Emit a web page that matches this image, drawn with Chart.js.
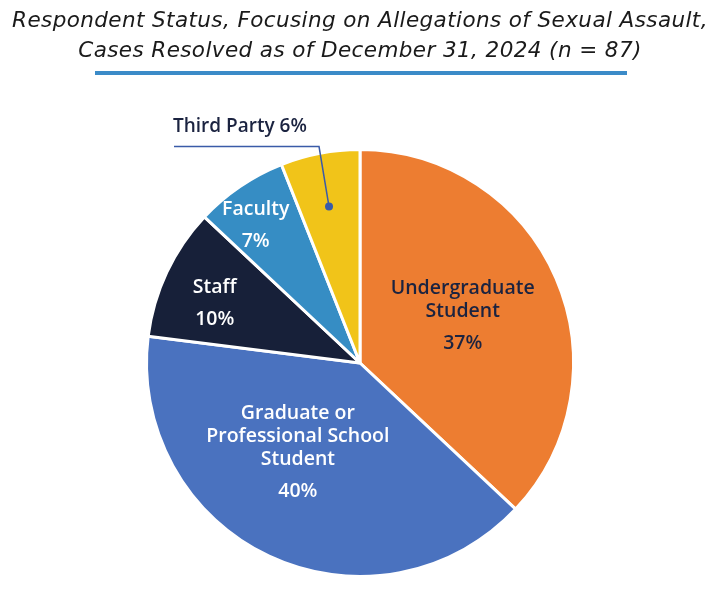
<!DOCTYPE html>
<html>
<head>
<meta charset="utf-8">
<script src="https://cdn.jsdelivr.net/npm/chart.js@4/dist/chart.umd.min.js"></script>
<style>
  html, body { margin: 0; padding: 0; background: #ffffff; }
  #wrap { width: 720px; height: 595px; position: relative; }
</style>
</head>
<body>
<div id="wrap"><canvas id="c" width="720" height="595"></canvas></div>
<script>
// ---- data ----
const titleLines = [
  'Respondent Status, Focusing on Allegations of Sexual Assault,',
  'Cases Resolved as of December 31, 2024 (n = 87)'
];
const categories = ['Undergraduate Student', 'Graduate or Professional School Student', 'Staff', 'Faculty', 'Third Party'];
const percents = [37, 40, 10, 7, 6];
const labelLines = [
  ['Undergraduate', 'Student'],
  ['Graduate or', 'Professional School', 'Student'],
  ['Staff'],
  ['Faculty'],
  ['Third Party']
];

// ---- styles ----
const sliceColors = ['#ED7D31', '#4A72BF', '#172039', '#368DC4', '#F1C419'];
const labelColors = ['#1B2340', '#FFFFFF', '#FFFFFF', '#FFFFFF', '#1B2340'];
const labelRadiusFrac = [0.53, 0.51, 0.735, 0.81, 0.747];
const labelAngleOffsetDeg = [-1.4, 9.6, -3, -2.9, -0.4];
const calloutSlice = [false, false, false, false, true];
const FONT = '"Open Sans", "DejaVu Sans", sans-serif';
const TITLE_FONT = '"DejaVu Sans", sans-serif';

const titlePlugin = {
  id: 'titleDraw',
  afterDraw(chart) {
    const ctx = chart.ctx;
    ctx.save();
    ctx.fillStyle = '#1a1a1a';
    ctx.font = 'italic 400 21.5px ' + TITLE_FONT;
    ctx.letterSpacing = '0.4px';
    ctx.textAlign = 'center';
    ctx.textBaseline = 'middle';
    ctx.fillText(titleLines[0], 360, 21);
    ctx.fillText(titleLines[1], 360, 51);
    ctx.letterSpacing = '0px';
    ctx.fillStyle = '#3B8BC8';
    ctx.fillRect(95, 71, 532, 4);
    ctx.restore();
  }
};

const labelPlugin = {
  id: 'sliceLabels',
  afterDatasetsDraw(chart) {
    const ctx = chart.ctx;
    const meta = chart.getDatasetMeta(0);
    ctx.save();
    ctx.textAlign = 'center';
    ctx.textBaseline = 'middle';
    meta.data.forEach((arc, i) => {
      const p = arc.getProps(['x', 'y', 'startAngle', 'endAngle', 'outerRadius'], true);
      const mid = (p.startAngle + p.endAngle) / 2 + labelAngleOffsetDeg[i] * Math.PI / 180;
      const r = p.outerRadius * labelRadiusFrac[i];
      const px = p.x + Math.cos(mid) * r;
      const py = p.y + Math.sin(mid) * r;
      const pct = percents[i] + '%';
      if (calloutSlice[i]) {
        const ey = py - 60, ex = px - 10, sx = ex - 145;
        ctx.strokeStyle = '#3A5BA8';
        ctx.lineWidth = 1.5;
        ctx.beginPath();
        ctx.moveTo(sx, ey);
        ctx.lineTo(ex, ey);
        ctx.lineTo(px, py);
        ctx.stroke();
        ctx.fillStyle = '#3A5BA8';
        ctx.beginPath();
        ctx.arc(px, py, 4, 0, Math.PI * 2);
        ctx.fill();
        ctx.fillStyle = labelColors[i];
        ctx.font = '600 19px ' + FONT;
        ctx.textAlign = 'left';
        ctx.fillText(labelLines[i].join(' ') + ' ' + pct, sx - 1, ey - 20);
        ctx.textAlign = 'center';
        return;
      }
      const lines = labelLines[i];
      const n = lines.length;
      const span = (n - 1) * 23 + 32;
      const top = py - span / 2;
      ctx.fillStyle = labelColors[i];
      ctx.font = '600 19.5px ' + FONT;
      lines.forEach((t, k) => ctx.fillText(t, px, top + k * 23));
      ctx.fillText(pct, px, top + (n - 1) * 23 + 32);
    });
    ctx.restore();
  }
};

new Chart(document.getElementById('c'), {
  type: 'pie',
  data: {
    labels: categories,
    datasets: [{
      data: percents,
      backgroundColor: sliceColors,
      borderColor: '#FFFFFF',
      borderWidth: 3
    }]
  },
  options: {
    responsive: false,
    animation: false,
    layout: { padding: { top: 148, bottom: 17, left: 145, right: 145 } },
    plugins: {
      legend: { display: false },
      tooltip: { enabled: false },
      title: { display: false }
    }
  },
  plugins: [titlePlugin, labelPlugin]
});
</script>
</body>
</html>
